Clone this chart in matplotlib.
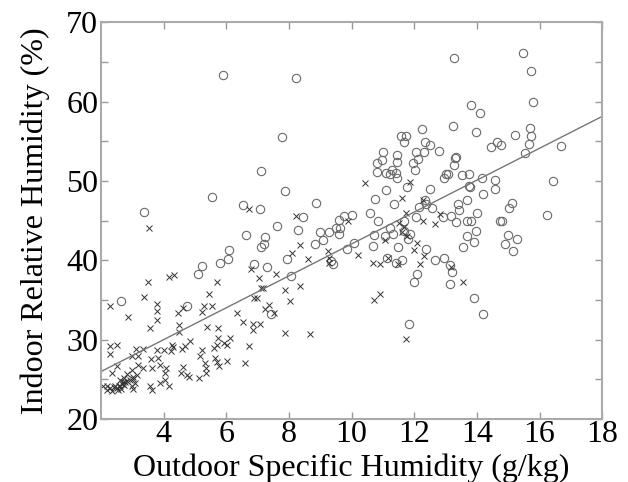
import matplotlib
matplotlib.use('Agg')
import matplotlib.pyplot as plt
import numpy as np

plt.rcParams['font.family'] = 'serif'
plt.rcParams['font.serif'] = ['Liberation Serif', 'DejaVu Serif']

# circles (o)
circ_x = [2.64, 3.38, 4.73, 5.09, 5.23, 5.53, 5.80, 5.89, 6.06, 6.08, 6.54, 6.64, 6.87, 7.06, 7.09,
          7.10, 7.19, 7.24, 7.31, 7.42, 7.60, 7.77, 7.88, 7.93, 8.05, 8.21, 8.29, 8.45, 8.84, 8.85,
          8.99, 9.08, 9.28, 9.33, 9.41, 9.49, 9.58, 9.60, 9.63, 9.74, 9.84, 10.02, 10.09, 10.58, 10.67,
          10.72, 10.74, 10.81, 10.81, 10.83, 10.97, 10.99, 11.06, 11.09, 11.11, 11.12, 11.21, 11.23, 11.30, 11.32,
          11.36, 11.40, 11.43, 11.44, 11.46, 11.46, 11.49, 11.57, 11.60, 11.66, 11.67, 11.68, 11.74, 11.78, 11.81,
          11.83, 11.87, 11.96, 12.00, 12.01, 12.06, 12.06, 12.10, 12.11, 12.14, 12.23, 12.32, 12.33, 12.34, 12.37,
          12.38, 12.51, 12.51, 12.55, 12.66, 12.79, 12.91, 12.94, 12.96, 13.02, 13.06, 13.15, 13.15, 13.17, 13.21,
          13.25, 13.26, 13.27, 13.30, 13.34, 13.34, 13.38, 13.43, 13.52, 13.56, 13.67, 13.67, 13.67, 13.74, 13.75,
          13.77, 13.80, 13.82, 13.90, 13.91, 13.98, 13.98, 13.99, 14.10, 14.16, 14.18, 14.19, 14.46, 14.56, 14.58,
          14.63, 14.74, 14.78, 14.80, 14.89, 14.99, 15.01, 15.11, 15.15, 15.23, 15.28, 15.47, 15.53, 15.66, 15.70,
          15.72, 15.74, 15.79, 16.25, 16.43, 16.68]
circ_y = [34.9, 46.1, 34.2, 38.3, 39.3, 48.0, 39.6, 63.3, 40.1, 41.3, 47.0, 43.2, 39.5, 46.4, 51.3,
          41.6, 42.1, 42.9, 39.1, 33.2, 44.3, 55.5, 48.7, 40.2, 38.0, 63.0, 43.8, 45.4, 42.0, 47.2,
          43.6, 42.6, 43.6, 39.9, 39.5, 44.0, 43.3, 45.1, 44.0, 45.6, 41.4, 45.7, 42.2, 45.9, 41.8,
          43.2, 47.7, 52.3, 51.1, 45.0, 52.6, 53.6, 43.1, 51.0, 48.9, 40.3, 44.1, 50.8, 51.4, 43.3,
          47.1, 39.7, 51.0, 50.3, 53.3, 52.4, 41.6, 55.7, 40.0, 54.9, 45.0, 43.7, 55.7, 49.2, 42.7,
          32.0, 43.3, 52.3, 37.2, 51.4, 53.6, 45.5, 38.3, 52.7, 46.7, 56.5, 53.6, 54.9, 47.6, 41.4,
          47.1, 54.5, 49.0, 46.6, 40.0, 53.8, 45.4, 40.3, 50.4, 50.8, 50.8, 39.4, 37.0, 45.6, 38.5,
          56.9, 65.5, 52.0, 52.9, 53.0, 44.8, 47.1, 46.3, 50.7, 41.6, 43.0, 44.9, 47.6, 50.8, 49.3,
          49.2, 59.5, 45.0, 42.3, 35.2, 56.1, 43.7, 46.0, 58.6, 50.3, 33.2, 48.4, 54.3, 49.0, 50.1,
          54.9, 45.0, 54.5, 45.0, 42.1, 43.2, 46.6, 47.2, 41.1, 55.8, 42.7, 66.1, 53.5, 54.7, 56.7,
          55.6, 63.9, 59.9, 45.7, 50.0, 54.4]

# crosses (x)
cross_x = [2.27, 2.85, 3.38, 3.51, 3.54, 3.55, 3.78, 3.78, 3.78, 4.18, 4.33, 4.47, 4.60, 4.49, 4.49,
           2.29, 2.50, 2.29, 2.50, 3.11, 3.35, 2.98, 3.19, 3.17, 3.35, 3.60, 3.83, 3.62, 3.87, 3.78,
           4.00, 4.05, 4.29, 4.24, 2.34, 2.98, 2.82, 3.03, 3.14, 2.72, 2.61,
           2.05, 2.18, 2.29, 2.40, 2.45, 2.50, 2.56, 2.61, 2.66, 2.69, 2.74, 2.77, 2.82, 2.93, 3.03,
           3.09, 2.18, 2.98, 3.03, 2.55, 2.65, 2.35,
           3.57, 3.62, 3.89, 4.05, 4.18, 4.61, 4.74, 4.56, 4.82, 5.14, 5.33, 5.35, 5.35, 5.16, 5.64,
           5.70, 5.75, 6.02, 5.59, 5.70, 4.85, 5.22, 4.58, 4.69, 4.07, 4.26,
           5.22, 5.29, 5.43, 5.53, 5.70, 5.38, 5.73, 5.73, 5.91, 6.02, 6.13,
           6.35, 6.54, 6.60, 6.72, 6.72, 6.80, 6.84, 6.86, 6.89, 6.97, 7.03, 7.06, 7.10, 7.18, 7.23,
           7.36, 7.52, 7.59, 7.87, 7.87, 8.02, 8.10, 8.22, 8.34, 8.35, 8.61, 8.68,
           9.24, 9.28, 9.26, 9.87, 10.19, 10.41, 10.67, 10.72, 10.92, 10.92, 11.07, 11.15, 11.49, 11.52, 11.60,
           11.62, 11.68, 11.72, 11.73, 11.78, 11.87, 12.00, 12.10, 12.17, 12.27, 12.28, 12.30, 12.66, 12.83, 13.17,
           13.54]
cross_y = [34.2, 32.8, 35.3, 37.3, 44.0, 31.4, 34.5, 33.6, 32.4, 37.9, 38.1, 33.4, 34.0, 31.8, 30.9,
           29.2, 29.3, 28.2, 26.7, 28.8, 28.8, 27.9, 27.9, 26.8, 26.4, 27.5, 27.7, 26.4, 26.8, 28.7,
           28.7, 25.8, 29.0, 28.6, 25.8, 26.2, 25.6, 25.3, 25.55, 25.1, 24.9,
           24.2, 24.1, 23.9, 24.0, 24.2, 23.9, 24.2, 24.1, 24.4, 24.6, 24.3, 24.7, 24.8, 24.9, 25.0,
           24.5, 23.6, 24.2, 23.8, 23.6, 23.8, 23.5,
           24.2, 23.7, 24.5, 24.9, 24.2, 26.5, 25.5, 25.8, 25.3, 25.1, 27.0, 26.4, 25.8, 27.9, 27.7,
           27.2, 26.7, 27.3, 28.9, 29.3, 29.8, 28.7, 28.8, 29.2, 26.4, 29.3,
           33.5, 34.2, 35.8, 34.2, 37.2, 31.6, 31.4, 30.2, 29.6, 29.3, 30.2,
           33.4, 32.2, 27.0, 29.2, 46.5, 38.9, 31.9, 31.2, 35.2, 35.2, 37.7, 32.0, 36.5, 36.5, 33.9,
           34.3, 33.3, 38.2, 36.3, 30.8, 34.9, 40.9, 45.6, 41.9, 36.8, 40.2, 30.7,
           41.2, 39.7, 40.3, 44.9, 40.6, 49.7, 39.7, 35.0, 35.7, 39.5, 42.5, 40.3, 39.5, 44.7, 47.9,
           43.6, 44.2, 30.1, 46.0, 43.1, 49.8, 41.3, 42.2, 39.5, 47.6, 44.9, 40.5, 44.5, 45.8, 39.2,
           37.3]

# fitted line
fit_slope = 2.01
fit_intercept = 21.95
line_x = [2, 18]

xticks = [4, 6, 8, 10, 12, 14, 16, 18]
yticks = [20, 25, 30, 35, 40, 45, 50, 55, 60, 65, 70]
ylabels = ['20', '', '30', '', '40', '', '50', '', '60', '', '70']

fig = plt.figure(figsize=(6.28, 4.82), dpi=100)
ax = fig.add_axes([0.161, 0.131, 0.798, 0.823])

ax.plot(circ_x, circ_y, 'o', mfc='none', mec='#6a6a6a', ms=6, mew=0.8)
ax.plot(cross_x, cross_y, 'x', color='#333333', ms=4.5, mew=0.7)
ax.plot(line_x, [fit_intercept + fit_slope * v for v in line_x], '-', color='#777777', lw=1)

ax.set_xlim(2, 18)
ax.set_ylim(20, 70)
ax.set_xticks(xticks)
ax.set_yticks(yticks)
ax.set_yticklabels(ylabels)
ax.tick_params(direction='in', top=True, right=True, length=5, width=1,
               color='#999999', labelsize=23)
ax.tick_params(axis='x', pad=1)
ax.tick_params(axis='y', pad=2)
for s in ax.spines.values():
    s.set_color('#aaaaaa')
    s.set_linewidth(1.5)

ax.set_xlabel('Outdoor Specific Humidity (g/kg)', fontsize=23, labelpad=3)
ax.set_ylabel('Indoor Relative Humidity (%)', fontsize=23, labelpad=12)

plt.savefig('out.png')
